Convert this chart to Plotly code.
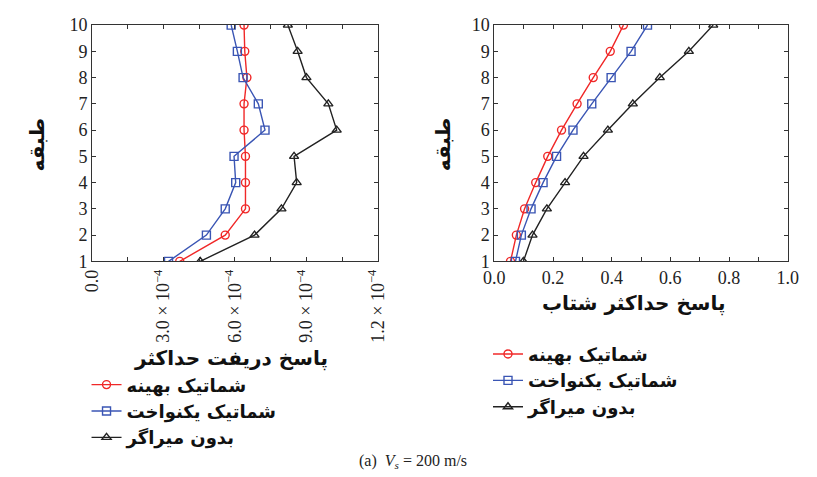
import plotly.graph_objects as go

stories = [1, 2, 3, 4, 5, 6, 7, 8, 9, 10]

# Left: peak drift response
drift_opt = [0.368e-3, 0.559e-3, 0.644e-3, 0.644e-3, 0.644e-3, 0.638e-3, 0.638e-3, 0.650e-3, 0.641e-3, 0.638e-3]
drift_uni = [0.321e-3, 0.480e-3, 0.559e-3, 0.603e-3, 0.596e-3, 0.726e-3, 0.698e-3, 0.634e-3, 0.610e-3, 0.584e-3]
drift_none = [0.454e-3, 0.682e-3, 0.795e-3, 0.859e-3, 0.848e-3, 1.027e-3, 0.992e-3, 0.900e-3, 0.863e-3, 0.822e-3]

# Right: peak acceleration response
acc_opt = [0.055, 0.075, 0.103, 0.141, 0.182, 0.229, 0.282, 0.337, 0.395, 0.440]
acc_uni = [0.072, 0.092, 0.125, 0.166, 0.212, 0.268, 0.332, 0.398, 0.466, 0.522]
acc_none = [0.099, 0.130, 0.179, 0.241, 0.304, 0.387, 0.472, 0.564, 0.663, 0.746]

names = ["شماتیک بهینه", "شماتیک یکنواخت", "بدون میراگر"]
left_ticks = [0, 0.15e-3, 0.3e-3, 0.45e-3, 0.6e-3, 0.75e-3, 0.9e-3, 1.05e-3, 1.2e-3]
left_labels = ["0.0", "", "3.0 × 10<sup>−4</sup>", "", "6.0 × 10<sup>−4</sup>", "",
               "9.0 × 10<sup>−4</sup>", "", "1.2 × 10<sup>−4</sup>"]
right_ticks = [0, 0.1, 0.2, 0.3, 0.4, 0.5, 0.6, 0.7, 0.8, 0.9, 1.0]
right_labels = ["0.0", "", "0.2", "", "0.4", "", "0.6", "", "0.8", "", "1.0"]

colors = ["#f02828", "#3a55b4", "#222222"]
symbols = ["circle-open", "square-open", "triangle-up-open"]

fig = go.Figure()
for i, series in enumerate([drift_opt, drift_uni, drift_none]):
    fig.add_trace(go.Scatter(x=series, y=stories, mode="lines+markers", name=names[i],
                             line=dict(color=colors[i], width=1.4),
                             marker=dict(symbol=symbols[i], size=8, color=colors[i], line=dict(width=1.4)),
                             xaxis="x", yaxis="y", legend="legend"))
for i, series in enumerate([acc_opt, acc_uni, acc_none]):
    fig.add_trace(go.Scatter(x=series, y=stories, mode="lines+markers", name=names[i],
                             line=dict(color=colors[i], width=1.4),
                             marker=dict(symbol=symbols[i], size=8, color=colors[i], line=dict(width=1.4)),
                             xaxis="x2", yaxis="y2", legend="legend2"))

serif = "Liberation Serif"
arab = "DejaVu Sans"
axis_common = dict(showline=True, linecolor="#333", linewidth=1.2, mirror="ticks",
                   ticks="inside", ticklen=4, tickcolor="#333", showgrid=False, zeroline=False,
                   tickfont=dict(family=serif, size=18, color="#222"))

leg_font = dict(family=arab, size=18, color="#111", weight="bold")
fig.update_layout(
    width=817, height=477, margin=dict(l=0, r=0, t=0, b=0),
    paper_bgcolor="white", plot_bgcolor="white",
    xaxis=dict(domain=[0.102, 0.4615], range=[0, 1.2e-3], tickvals=left_ticks, ticktext=left_labels,
               tickangle=-90, anchor="y", **axis_common),
    yaxis=dict(domain=[0.45, 0.967], range=[1, 10], dtick=1, anchor="x", **axis_common),
    xaxis2=dict(domain=[0.608, 0.977], range=[0, 1.0], tickvals=right_ticks, ticktext=right_labels,
                anchor="y2", **axis_common),
    yaxis2=dict(domain=[0.45, 0.967], range=[1, 10], dtick=1, anchor="x2", **axis_common),
    legend=dict(x=0.095, y=1 - 372 / 477, xanchor="left", yanchor="top", bgcolor="rgba(0,0,0,0)",
                font=leg_font, tracegroupgap=0, itemwidth=30),
    legend2=dict(x=0.6, y=1 - 340 / 477, xanchor="left", yanchor="top", bgcolor="rgba(0,0,0,0)",
                 font=leg_font, tracegroupgap=0, itemwidth=30),
    showlegend=True,
)

ann_font = dict(family=arab, size=20, color="#111", weight="bold")


def ann(text, x, y, font, angle=0):
    fig.add_annotation(text=text, x=x / 817, y=1 - y / 477, xref="paper", yref="paper",
                       xanchor="center", yanchor="middle", showarrow=False, textangle=angle, font=font)


ann("طبقه", 27, 140, ann_font, -90)
ann("طبقه", 444, 140, ann_font, -90)
ann("پاسخ دریفت حداکثر", 226, 364, ann_font)
ann("پاسخ حداکثر شتاب", 640, 306, ann_font)
ann("(a)  <i>V<sub>s</sub></i> = 200 m/s", 413, 471, dict(family=serif, size=16, color="#222"))

fig.write_html("out.html")
